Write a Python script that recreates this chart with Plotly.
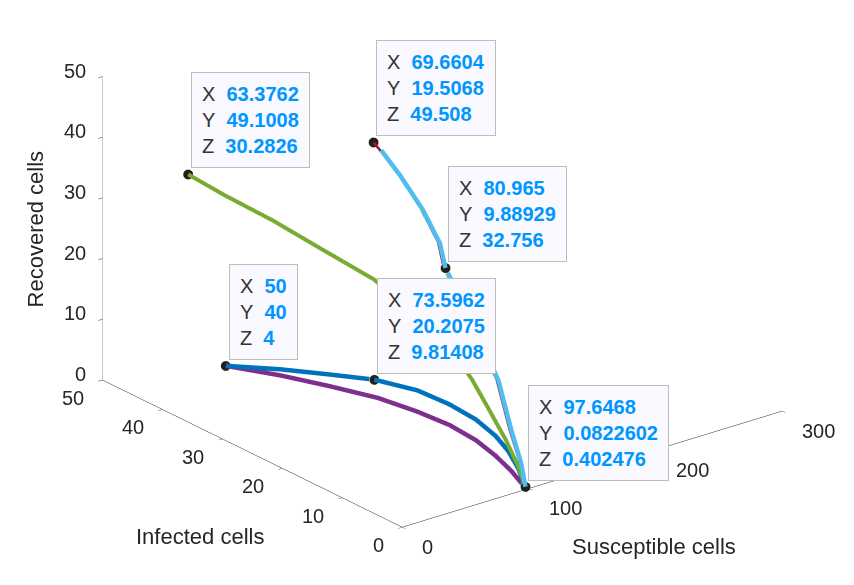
import plotly.graph_objects as go

# trajectories (S = susceptible, I = infected, R = recovered)
blue_s = [50, 59.8, 67.7, 73.5962, 82.8, 87.0, 91.4, 95.0, 97.0, 97.6, 97.6468]
blue_i = [40, 33, 26.5, 20.2075, 15, 10.5, 7, 4.5, 2.8, 1.3, 0.0822602]
blue_r = [4, 6.2, 8.0, 9.81408, 10.0, 9.6, 8.5, 6.8, 5.0, 2.9, 0.402476]

purple_s = [50, 59.8, 70.0, 80.2, 85.2, 89.4, 91.4, 94.0, 95.6, 97.7, 97.6468]
purple_i = [40, 33, 27, 21, 15.5, 11, 7, 4.3, 2.0, 0.5, 0.0822602]
purple_r = [4, 5.2, 5.7, 6.0, 6.1, 5.8, 5.1, 3.7, 2.2, 0.5, 0.402476]

green_s = [63.3762, 67, 72, 77, 82, 86, 89, 92, 94.5, 96.3, 97.2, 97.6468]
green_i = [49.1008, 43.9, 36.8, 29.7, 22.0, 15.2, 10.9, 7.8, 5.5, 3.1, 1.2, 0.0822602]
green_r = [30.2826, 29.2, 28.1, 26.5, 24.9, 21.2, 18.6, 14.7, 10.7, 6.8, 3.3, 0.402476]

cyan_s = [71, 73.5, 76.5, 79, 80.965, 82.5, 88, 92.5, 95.5, 97, 97.6468]
cyan_i = [18.5, 15.8, 12.7, 10.4, 9.88929, 9.0, 6.1, 3.5, 2.0, 0.67, 0.0822602]
cyan_r = [48.6, 45.5, 41.2, 36.7, 32.756, 30.6, 23.4, 16.6, 9.0, 4.1, 0.402476]

red_s = [69.6604, 71, 73.5, 76.5, 79, 80.965, 82.5, 88, 92.5, 95.5, 97, 97.6468]
red_i = [19.5068, 18.8, 16.1, 13.0, 10.7, 10.2, 9.3, 6.4, 3.8, 2.3, 0.9, 0.0822602]
red_r = [49.508, 48.6, 45.5, 41.2, 36.7, 32.756, 30.6, 23.4, 16.6, 9.0, 4.1, 0.402476]

# data tips
tip_s = [63.3762, 69.6604, 80.965, 50, 73.5962, 97.6468]
tip_i = [49.1008, 19.5068, 9.88929, 40, 20.2075, 0.0822602]
tip_r = [30.2826, 49.508, 32.756, 4, 9.81408, 0.402476]
tip_lbl_s = ["63.3762", "69.6604", "80.965", "50", "73.5962", "97.6468"]
tip_lbl_i = ["49.1008", "19.5068", "9.88929", "40", "20.2075", "0.0822602"]
tip_lbl_r = ["30.2826", "49.508", "32.756", "4", "9.81408", "0.402476"]

x_ticks = [0, 100, 200, 300]
y_ticks = [0, 10, 20, 30, 40, 50]
z_ticks = [0, 10, 20, 30, 40, 50]

FONT = "Liberation Sans, Arial, sans-serif"
INK = "#262626"

fig = go.Figure()

def add_line(s, i, r, color, width):
    fig.add_trace(go.Scatter3d(x=s, y=i, z=r, mode="lines",
                               line=dict(color=color, width=width),
                               hoverinfo="skip", showlegend=False))

add_line(blue_s, blue_i, blue_r, "#0072BD", 9)
add_line(purple_s, purple_i, purple_r, "#7E2F8E", 9)
add_line(green_s, green_i, green_r, "#77AC30", 8)
add_line(red_s, red_i, red_r, "#A2142F", 5)
add_line(cyan_s, cyan_i, cyan_r, "#4DBEEE", 9)

fig.add_trace(go.Scatter3d(x=tip_s, y=tip_i, z=tip_r, mode="markers",
                           marker=dict(size=6, color="#202020",
                                       line=dict(color="#FFFFD0", width=2)),
                           hoverinfo="skip", showlegend=False))

annots = []
for k in range(len(tip_s)):
    val = "<b><span style='color:#0096FF'>%s</span></b>"
    txt = ("X&nbsp;&nbsp;" + val % tip_lbl_s[k] + "<br>"
           "Y&nbsp;&nbsp;" + val % tip_lbl_i[k] + "<br>"
           "Z&nbsp;&nbsp;" + val % tip_lbl_r[k])
    annots.append(dict(x=tip_s[k], y=tip_i[k], z=tip_r[k], text=txt,
                       showarrow=False, xanchor="left", yanchor="bottom",
                       xshift=3, yshift=6, align="left",
                       font=dict(family=FONT, size=20, color="#333333"),
                       bgcolor="#F9F9FF", bordercolor="#BDBDBD",
                       borderwidth=1, borderpad=10))

# upright tick labels, MATLAB style
tick_font = dict(family=FONT, size=20, color=INK)
for v in x_ticks:
    annots.append(dict(x=v, y=0, z=0, text=str(v), showarrow=False,
                       xanchor="left", yanchor="middle", xshift=18, yshift=-20,
                       font=tick_font))
for v in y_ticks:
    annots.append(dict(x=0, y=v, z=0, text=str(v), showarrow=False,
                       xanchor="right", yanchor="middle", xshift=-16, yshift=-18,
                       font=tick_font))
for v in z_ticks:
    annots.append(dict(x=0, y=50, z=v, text=str(v), showarrow=False,
                       xanchor="right", yanchor="middle", xshift=-14, yshift=6,
                       font=tick_font))

def axis(rng, vals, lcolor):
    return dict(title=dict(text=""),
                range=rng, tickvals=vals, showticklabels=False,
                showgrid=False, showbackground=False,
                showline=True, linecolor=lcolor, linewidth=1, zeroline=False,
                ticks="outside", ticklen=5, tickcolor=INK,
                showspikes=False)

title_font = dict(family=FONT, size=22, color=INK)

k = 1.655
fig.update_layout(
    width=854, height=585,
    margin=dict(l=0, r=0, t=0, b=0),
    paper_bgcolor="white",
    scene=dict(
        domain=dict(x=[0, 1], y=[0, 1]),
        aspectmode="manual", aspectratio=dict(x=k, y=k, z=0.68 * k),
        camera=dict(projection=dict(type="orthographic"),
                    eye=dict(x=-0.6044 * 1.8, y=-0.7437 * 1.8, z=0.2857 * 1.8),
                    center=dict(x=-0.02, y=0.015, z=-0.21),
                    up=dict(x=0, y=0, z=1)),
        xaxis=axis([0, 300], x_ticks, INK),
        yaxis=axis([0, 50], y_ticks, INK),
        zaxis=axis([0, 50], z_ticks, "#909090"),
        annotations=annots,
    ),
    annotations=[
        dict(text="Susceptible cells", x=0.757, y=0.079, xref="paper", yref="paper",
             xanchor="center", yanchor="middle", showarrow=False, font=title_font),
        dict(text="Infected cells", x=0.225, y=0.096, xref="paper", yref="paper",
             xanchor="center", yanchor="middle", showarrow=False, font=title_font),
        dict(text="Recovered cells", x=0.032, y=0.622, xref="paper", yref="paper",
             xanchor="center", yanchor="middle", showarrow=False, textangle=-90,
             font=title_font),
    ],
)

fig.write_html("out.html")
